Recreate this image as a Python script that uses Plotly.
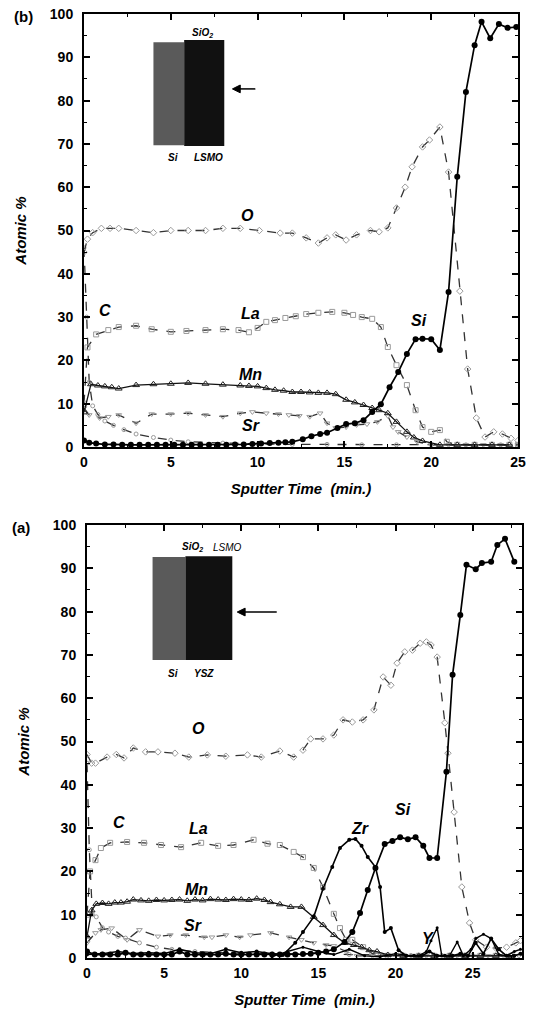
import plotly.graph_objects as go

# ---------------- DATA : panel (b)  SiO2 / LSMO on Si ----------------
b_O_x = [0, 0.2, 0.5, 1.0, 1.5, 2.0, 3.0, 4.0, 5.0, 6.0, 7.0, 8.0, 9.0, 10.1, 11.3, 12.0, 12.8, 13.5, 14.0, 14.5,
         15.1, 15.7, 16.5, 17.0, 17.5, 18.0, 18.5, 18.9, 19.5, 19.9, 20.5, 21.0, 21.65, 22.1, 22.6, 23.1, 23.6, 24.1, 24.6, 25.0]
b_O_y = [45, 48, 49.5, 50.5, 50.5, 50.5, 50.0, 49.5, 50.0, 50.0, 50.0, 50.5, 50.5, 50.0, 49.4, 49.4, 48.3, 47.1, 48.3, 49.0,
         47.8, 49.0, 50.0, 49.7, 50.6, 55.2, 60.0, 64.7, 69.3, 70.9, 73.9, 63.5, 36.0, 18.0, 6.7, 2.3, 3.5, 3.0, 2.0, 1.5]

b_La_x = [0, 0.2, 0.7, 1.4, 2.0, 3.0, 3.9, 5.0, 5.9, 7.0, 8.0, 8.9, 9.5, 10.0, 10.5, 11.0, 11.6, 12.2, 12.8, 13.5,
          14.3, 15.0, 15.5, 16.0, 16.6, 17.1, 17.5, 18.0, 18.6, 19.1, 19.5, 20.0, 20.5, 20.9, 21.5, 22.5, 23.5, 24.5, 25.0]
b_La_y = [10, 23, 26, 27, 27.7, 28, 27.2, 26.6, 26.8, 27, 27.2, 27, 26.5, 27.5, 28.9, 29.3, 29.8, 30.2, 30.7, 31,
          31.2, 31, 30.5, 30, 29.6, 27.7, 23.1, 18.9, 14.3, 8.5, 4.6, 3.5, 3.9, 1.2, 0.5, 0.5, 0.5, 0.5, 0.5]

b_Mn_x = [0, 0.4, 0.8, 1.2, 1.6, 2.0, 3.0, 4.0, 5.0, 6.0, 7.0, 8.0, 9.0, 9.5, 10.0, 10.5, 11.0, 11.5, 12.0, 12.5,
          13.0, 13.5, 14.0, 14.5, 15.1, 15.6, 16.1, 16.6, 17.0, 17.5, 18.0, 18.6, 19.0, 19.5, 20.5, 21.5, 22.5, 23.5, 24.5]
b_Mn_y = [8, 14.5, 14.2, 14.0, 13.8, 13.5, 14.3, 14.5, 14.6, 14.8, 14.6, 14.4, 14.2, 14.1, 14.0, 13.6, 13.2, 13.0, 12.7, 12.7,
          12.6, 12.5, 12.5, 12.2, 10.9, 10.3, 9.7, 9.0, 8.5, 7.8, 5.8, 3.5, 2.2, 1.4, 0.5, 0.5, 0.5, 0.5, 0.5]

b_Sr_x = [0, 0.3, 0.9, 1.4, 2.0, 3.0, 3.9, 5.0, 6.0, 7.0, 8.0, 9.0, 9.7, 10.5, 11.2, 11.8, 12.4, 13.0, 13.6, 14.0,
          14.5, 15.1, 15.7, 16.3, 16.9, 17.5, 17.8, 18.1, 18.6, 19.2, 20.0, 21.0, 22.0, 23.0, 24.0, 25.0]
b_Sr_y = [9, 7.4, 6.7, 7.0, 7.4, 5.5, 7.6, 7.6, 7.8, 7.4, 7.0, 7.8, 8.1, 7.8, 7.6, 7.4, 7.2, 7.0, 7.8, 5.5,
          4.4, 4.6, 5.1, 5.3, 5.8, 7.2, 4.6, 3.5, 2.3, 1.2, 0.5, 0.5, 0.5, 0.5, 0.5, 0.5]

b_C_x = [0, 0.15, 0.3, 0.5, 0.8, 1.2, 1.7, 2.3, 3.0, 4.0, 5.0, 6.0, 8.0, 10.0, 12.0, 14.0, 16.0, 18.0, 20.0, 22.0, 24.0, 25.0]
b_C_y = [46, 30, 15, 9.5, 7.5, 6.0, 5.0, 4.0, 3.0, 2.2, 1.6, 1.2, 0.9, 0.7, 0.6, 0.6, 0.5, 0.5, 0.5, 0.5, 0.5, 0.5]

b_Si_x = [0, 0.3, 0.7, 1.2, 1.7, 2.2, 2.7, 3.2, 3.7, 4.2, 4.7, 5.2, 5.7, 6.2, 6.7, 7.2, 7.7, 8.2, 8.7, 9.2,
          9.7, 10.2, 10.7, 11.2, 11.6, 12.0, 12.6, 13.1, 13.6, 14.0, 14.6, 15.1, 15.6, 16.1, 16.6, 17.1, 17.6, 18.1, 18.6, 19.1,
          19.5, 20.0, 20.5, 21.0, 21.5, 22.0, 22.5, 22.9, 23.4, 23.9, 24.4, 24.9]
b_Si_y = [1.5, 1.0, 0.8, 0.6, 0.6, 0.5, 0.5, 0.5, 0.5, 0.5, 0.5, 0.5, 0.5, 0.5, 0.5, 0.5, 0.5, 0.5, 0.6, 0.6,
          0.7, 0.8, 0.9, 1.0, 1.1, 1.2, 1.8, 2.5, 3.0, 3.3, 4.4, 5.3, 5.5, 6.2, 8.1, 9.9, 13.8, 17.3, 21.5, 24.9,
          25.0, 24.9, 22.4, 35.8, 62.4, 82.0, 92.8, 98.2, 94.4, 97.7, 96.8, 97.0]

# ---------------- DATA : panel (a)  SiO2 / LSMO / YSZ on Si ----------------
a_O_x = [0, 0.3, 0.55, 1.3, 1.9, 2.4, 3.0, 3.8, 4.6, 5.7, 6.6, 7.8, 9.0, 10.4, 11.3, 12.5, 13.4, 14.0, 14.5, 15.3,
         16.0, 16.6, 17.2, 17.9, 18.6, 19.2, 19.7, 20.1, 20.6, 21.1, 21.6, 22.0, 22.3, 22.7, 23.2, 23.4, 23.8, 24.3, 24.8, 25.2,
         25.9, 26.5, 27.2, 27.8, 28.1]
a_O_y = [47, 45, 45, 46.4, 47, 46.2, 48.5, 47.6, 47.6, 47.3, 46.4, 46.9, 46.6, 46.9, 46.4, 47.8, 46.4, 48, 50.6, 50.6,
         51.5, 55, 54.5, 55, 57.3, 64.9, 63, 68.1, 70.7, 71.1, 72.7, 73.0, 72.3, 69.5, 54.3, 47.3, 33.7, 16.4, 8.1, 4.2,
         2.5, 2.3, 2.5, 3.5, 4.0]

a_La_x = [0, 0.2, 0.55, 0.9, 1.5, 2.6, 3.7, 4.8, 6.1, 7.4, 8.5, 9.5, 10.8, 11.7, 12.5, 13.4, 14.0, 14.7, 15.3, 16.0,
          16.4, 16.8, 17.2, 17.9, 18.5, 19.5, 20.5, 21.5, 22.5, 23.5, 24.5, 25.5, 26.5, 27.5]
a_La_y = [10, 20, 22.6, 25.4, 26.6, 26.8, 26.6, 26.1, 25.6, 26.6, 25.9, 26.1, 27.3, 26.4, 26.1, 24.5, 23.3, 20.8, 16.4, 10.2,
          6.9, 4.2, 4.2, 2.5, 1.0, 0.5, 0.5, 0.5, 0.5, 0.5, 0.5, 0.5, 0.5, 0.5]

a_Mn_x = [0, 0.3, 0.6, 1.0, 1.4, 1.8, 2.2, 2.6, 3.0, 3.5, 4.0, 4.5, 5.0, 5.5, 6.0, 6.5, 7.0, 7.5, 8.0, 8.5,
          9.0, 9.5, 10.0, 10.5, 11.0, 11.5, 11.9, 12.5, 13.2, 13.9, 14.7, 15.3, 16.0, 16.7, 17.3, 17.8, 18.3, 18.8, 19.5, 20.5,
          21.5, 22.5, 23.5, 24.5, 25.5, 26.5, 27.5]
a_Mn_y = [5, 11, 12.5, 12.7, 12.5, 12.8, 12.8, 13.0, 13.5, 13.3, 13.2, 13.4, 13.3, 13.4, 13.5, 13.2, 13.5, 13.3, 13.6, 13.5,
          13.4, 13.6, 13.5, 13.4, 13.7, 13.4, 12.9, 12.4, 11.8, 11.8, 9.5, 7.6, 5.3, 3.5, 3.0, 2.5, 1.8, 1.5, 0.7, 0.5,
          0.5, 0.5, 0.5, 0.5, 0.5, 0.5, 0.5]

a_Sr_x = [0, 0.55, 0.9, 1.6, 2.6, 3.4, 4.6, 5.4, 6.4, 7.6, 8.1, 9.0, 9.9, 10.6, 11.9, 13.1, 13.9, 14.7, 15.5, 16.0,
          16.8, 17.5, 18.5, 19.5, 20.5, 22, 24, 26, 28]
a_Sr_y = [3.5, 5.8, 6.5, 6.9, 4.2, 6.5, 5.0, 5.3, 5.3, 4.8, 4.8, 5.3, 4.8, 5.3, 5.8, 4.8, 4.2, 3.5, 3.0, 2.8,
          1.5, 0.5, 0.5, 0.5, 0.5, 0.5, 0.5, 0.5, 0.5]

a_C_x = [0, 0.15, 0.35, 0.6, 1.0, 1.4, 2.0, 2.5, 3.4, 4.5, 5.5, 7.0, 9.0, 11.0, 13.0, 15.0, 17.0, 19.0, 21.0, 23.0, 25.0, 27.0]
a_C_y = [45, 25, 10, 9.5, 7.0, 6.0, 5.0, 4.6, 3.5, 2.5, 2.0, 1.5, 1.2, 1.0, 1.0, 1.0, 0.8, 0.7, 0.6, 0.6, 0.6, 0.6]

a_Si_x = [0, 0.5, 1.0, 1.5, 2.0, 2.5, 3.0, 3.5, 4.0, 4.5, 5.0, 5.5, 6.0, 6.5, 7.0, 7.5, 8.0, 8.5, 9.0, 9.5,
          10.0, 10.5, 11.0, 11.5, 12.0, 12.5, 13.0, 13.5, 14.0, 14.5, 15.0, 15.5, 16.0, 16.7, 17.2, 17.7, 18.2, 18.7, 19.3, 19.8,
          20.3, 20.8, 21.3, 21.8, 22.2, 22.7, 23.3, 23.7, 24.2, 24.6, 25.2, 25.6, 26.2, 26.6, 27.1, 27.7]
a_Si_y = [1.5, 0.8, 0.8, 0.8, 0.8, 1.2, 0.8, 0.8, 0.8, 0.8, 0.8, 0.8, 1.5, 0.8, 0.8, 0.8, 0.8, 0.8, 1.0, 0.8,
          0.8, 0.8, 0.8, 0.8, 0.8, 0.8, 0.8, 0.8, 0.9, 1.0, 1.2, 1.5, 2.0, 3.7, 6.0, 10.4, 15.7, 20.8, 26.3, 27.0,
          27.9, 27.4, 27.9, 25.9, 23.1, 23.1, 43.0, 65.4, 79.2, 90.8, 89.8, 91.2, 91.5, 95.4, 96.8, 91.5]

a_Zr_x = [0, 1.0, 2.0, 3.0, 4.0, 5.0, 6.0, 7.0, 8.0, 9.0, 10.0, 11.0, 12.0, 12.7, 13.5, 14.0, 14.7, 15.3, 15.9, 16.4,
          17.0, 17.4, 17.8, 18.2, 18.7, 19.0, 19.3, 19.7, 20.2, 20.7, 21.2, 21.7, 22.2, 22.7, 23.2, 23.7, 24.2, 24.7, 25.2, 25.7,
          26.2, 26.7, 27.2, 27.7, 28.1]
a_Zr_y = [0.8, 1.0, 1.5, 1.0, 1.2, 1.0, 2.0, 1.2, 1.0, 2.0, 1.2, 1.5, 1.0, 0.7, 3.5, 6.0, 9.5, 16.0, 21.0, 25.4,
          27.3, 27.5, 25.9, 23.3, 21.0, 16.4, 6.0, 6.9, 1.8, 0.5, 0.5, 0.5, 1.5, 0.5, 0.5, 0.5, 1.0, 0.5, 3.5, 1.0,
          4.5, 2.0, 0.5, 0.5, 1.0]

a_Y_x = [12.0, 13.0, 14.0, 15.0, 16.0, 17.0, 18.0, 19.0, 20.0, 21.0, 21.5, 22.0, 22.3, 22.7, 23.0, 23.5, 24.0, 24.4, 24.9, 25.2,
         25.7, 26.2, 26.7, 27.2, 27.7, 28.1]
a_Y_y = [0.3, 1.5, 2.5, 1.5, 0.8, 2.0, 0.5, 0.3, 1.0, 0.5, 0.5, 1.5, 4.0, 7.0, 0.5, 0.5, 3.7, 0.5, 2.0, 4.5,
         5.5, 4.5, 0.8, 0.5, 1.5, 2.0]

x_title = "<b><i>Sputter Time  (min.)</i></b>"
y_title = "<b><i>Atomic %</i></b>"

# ---------------- FIGURE ----------------
W, H = 539, 1018
FONT = "Liberation Sans"

def PX(p):                   # page pixel -> paper fraction (x)
    return p / W

def PY(p):                   # page pixel -> paper fraction (y)
    return 1 - p / H

fig = go.Figure()

STY = {
    "O":  dict(line=dict(color="#333333", width=1.3, dash="dash"),
               marker=dict(symbol="diamond-open", size=5, color="#9a9a9a", line=dict(width=1))),
    "La": dict(line=dict(color="#333333", width=1.3, dash="dash"),
               marker=dict(symbol="square-open", size=5, color="#9a9a9a", line=dict(width=1))),
    "Mn": dict(line=dict(color="#111111", width=1.3),
               marker=dict(symbol="triangle-up-open", size=6, color="#222222", line=dict(width=1))),
    "Sr": dict(line=dict(color="#333333", width=1.3, dash="dash"),
               marker=dict(symbol="triangle-down-open", size=5, color="#9a9a9a", line=dict(width=1))),
    "C":  dict(line=dict(color="#333333", width=1.3, dash="dash"),
               marker=dict(symbol="circle-open", size=4, color="#9a9a9a", line=dict(width=1))),
    "Si": dict(line=dict(color="#000000", width=1.7),
               marker=dict(symbol="circle", size=6, color="#000000")),
    "Zr": dict(line=dict(color="#000000", width=1.6),
               marker=dict(symbol="circle", size=4, color="#000000")),
    "Y":  dict(line=dict(color="#000000", width=1.4),
               marker=dict(symbol="circle", size=3, color="#000000")),
}

def add(x, y, key, xa, ya):
    fig.add_trace(go.Scatter(x=x, y=y, mode="lines+markers", xaxis=xa, yaxis=ya,
                             showlegend=False, cliponaxis=True, **STY[key]))

for x, y, k in [(b_C_x, b_C_y, "C"), (b_Sr_x, b_Sr_y, "Sr"), (b_La_x, b_La_y, "La"), (b_O_x, b_O_y, "O"),
                (b_Mn_x, b_Mn_y, "Mn"), (b_Si_x, b_Si_y, "Si")]:
    add(x, y, k, "x", "y")
for x, y, k in [(a_C_x, a_C_y, "C"), (a_Sr_x, a_Sr_y, "Sr"), (a_La_x, a_La_y, "La"), (a_O_x, a_O_y, "O"),
                (a_Mn_x, a_Mn_y, "Mn"), (a_Y_x, a_Y_y, "Y"), (a_Zr_x, a_Zr_y, "Zr"), (a_Si_x, a_Si_y, "Si")]:
    add(x, y, k, "x2", "y2")

tickfont = dict(family=FONT, size=14, color="black", weight="bold")
common = dict(showline=True, linewidth=2, linecolor="black", mirror="ticks", ticks="inside",
              ticklen=6, tickwidth=1.5, tickcolor="black", showgrid=False, zeroline=False,
              tickfont=tickfont, automargin=False, fixedrange=True, ticklabeloverflow="allow")
title_font = dict(family=FONT, size=15, color="black")

def xax(dom, rng, anchor):
    return dict(domain=dom, range=rng, tick0=0, dtick=5, anchor=anchor, ticklabelstandoff=1,
                title=dict(text=x_title, font=title_font, standoff=15),
                minor=dict(ticks="inside", ticklen=3, tickwidth=1, tickcolor="black", dtick=2.5, tick0=0), **common)

def yax(dom, anchor):
    return dict(domain=dom, range=[0, 100], tick0=0, dtick=10, anchor=anchor, ticklabelstandoff=6,
                title=dict(text=y_title, font=title_font, standoff=20),
                minor=dict(ticks="inside", ticklen=3, tickwidth=1, tickcolor="black", dtick=5, tick0=0), **common)

fig.update_layout(
    width=W, height=H, margin=dict(l=0, r=0, t=0, b=0),
    template="none", paper_bgcolor="white", plot_bgcolor="white",
    xaxis=xax([PX(84), PX(518)], [0, 25], "y"),
    yaxis=yax([PY(447), PY(14)], "x"),
    xaxis2=xax([PX(87), PX(522)], [0, 28.2], "y2"),
    yaxis2=yax([PY(958), PY(525)], "x2"),
)

ann = []
def txt(x, y, t, xr, yr, size=15, **kw):
    ann.append(dict(x=x, y=y, xref=xr, yref=yr, text=t, showarrow=False, xanchor="center", yanchor="middle",
                    font=dict(family=FONT, size=size, color="black"), **kw))

# element labels (b)
for x, y, t in [(9.4, 53.5, "O"), (1.2, 31.6, "C"), (9.6, 30.9, "La"), (9.6, 16.8, "Mn"), (9.6, 5.0, "Sr"), (19.3, 29.3, "Si")]:
    txt(x, y, f"<b><i>{t}</i></b>", "x", "y", size=16)
# element labels (a)
for x, y, t in [(7.2, 53.1, "O"), (2.05, 31.4, "C"), (7.2, 29.9, "La"), (7.1, 15.8, "Mn"), (6.9, 7.6, "Sr"),
                (17.7, 30.0, "Zr"), (20.5, 34.2, "Si"), (22.1, 4.4, "Y")]:
    txt(x, y, f"<b><i>{t}</i></b>", "x2", "y2", size=16)

# panel labels
txt(PX(23), PY(16), "<b>(b)</b>", "paper", "paper", size=15)
txt(PX(21), PY(527), "<b>(a)</b>", "paper", "paper", size=15)

# inset texts
txt(6.8, 95.6, "<b><i>SiO<sub>2</sub></i></b>", "x", "y", size=10)
txt(5.1, 66.8, "<b><i>Si</i></b>", "x", "y", size=10)
txt(7.2, 66.8, "<b><i>LSMO</i></b>", "x", "y", size=10)
txt(6.85, 94.9, "<b><i>SiO<sub>2</sub></i></b>", "x2", "y2", size=10)
txt(9.1, 94.9, "<i>LSMO</i>", "x2", "y2", size=10)
txt(5.6, 65.8, "<b><i>Si</i></b>", "x2", "y2", size=10)
txt(7.6, 65.8, "<b><i>YSZ</i></b>", "x2", "y2", size=10)
fig.update_layout(annotations=ann)

# inset layer sketch and arrows (decoration)
shapes = [
    dict(type="rect", xref="x", yref="y", x0=4.0, x1=5.77, y0=69.7, y1=93.5, fillcolor="#5a5a5a", line=dict(width=0)),
    dict(type="rect", xref="x", yref="y", x0=5.77, x1=8.08, y0=69.5, y1=94.0, fillcolor="#111111", line=dict(width=0)),
    dict(type="rect", xref="x2", yref="y2", x0=4.25, x1=6.38, y0=68.8, y1=92.6, fillcolor="#5a5a5a", line=dict(width=0)),
    dict(type="rect", xref="x2", yref="y2", x0=6.38, x1=9.42, y0=68.8, y1=92.8, fillcolor="#111111", line=dict(width=0)),
    dict(type="line", xref="x", yref="y", x0=8.9, x1=9.87, y0=82.7, y1=82.7, line=dict(color="black", width=1.5)),
    dict(type="path", xref="x", yref="y", path="M 8.55 82.7 L 9.0 83.6 L 9.0 81.8 Z",
         fillcolor="black", line=dict(color="black", width=1)),
    dict(type="line", xref="x2", yref="y2", x0=10.1, x1=12.3, y0=79.9, y1=79.9, line=dict(color="black", width=1.5)),
    dict(type="path", xref="x2", yref="y2", path="M 9.74 79.9 L 10.25 80.8 L 10.25 79.0 Z",
         fillcolor="black", line=dict(color="black", width=1)),
]
fig.update_layout(shapes=shapes)

fig.write_html("out.html", config={"displayModeBar": False},
               post_script="document.body.style.margin='0';document.body.style.overflow='hidden';")
